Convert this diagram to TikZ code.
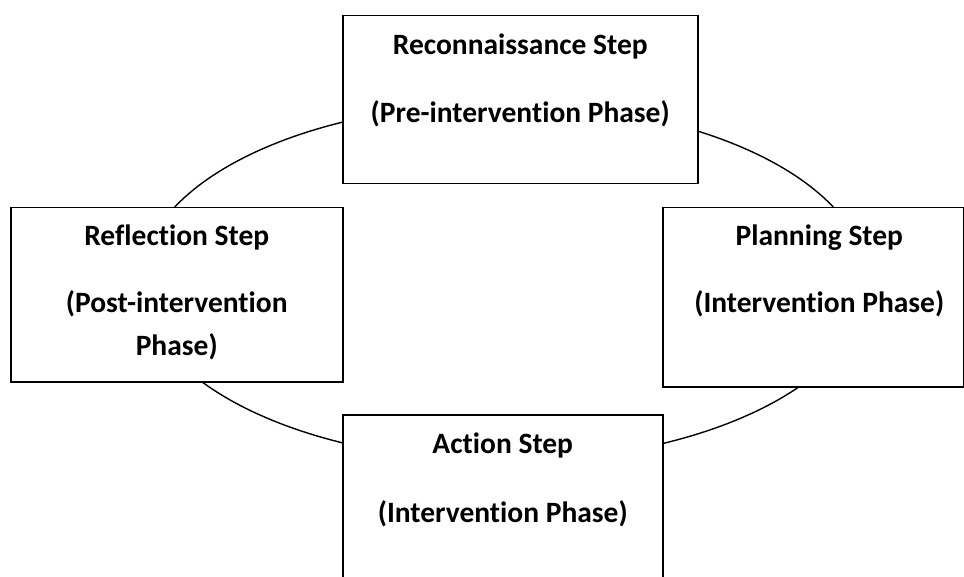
\documentclass[tikz,border=0pt]{standalone}
\usepackage{fontspec}
\setmainfont[Ligatures=NoCommon]{Carlito}
\usetikzlibrary{positioning}
\tikzset{
  stepbox/.style={draw, fill=white, line width=1.5pt, anchor=north west, inner sep=0pt},
  steptext/.style={align=center, inner sep=0pt, font=\bfseries\fontsize{29.5}{43}\selectfont}
}
\begin{document}
\begin{tikzpicture}[x=1pt, y=-1pt]
  \useasboundingbox (0,0) rectangle (964,577);
  \clip (0,0) rectangle (964,577);
  \coordinate (hub) at (504,282.5);
  \draw[line width=1.4pt] (hub) ellipse [x radius=363pt, y radius=179pt];
  \node[stepbox, minimum width=355pt, minimum height=168pt] (recon) at (342,15) {};
  \node[stepbox, minimum width=332pt, minimum height=174pt] (reflect) at (10,207) {};
  \node[stepbox, minimum width=301pt, minimum height=179pt] (plan) at (662,207) {};
  \node[stepbox, minimum width=320pt, minimum height=200pt] (act) at (342,414) {};
  \node[steptext, below=9pt of recon.north] (recontext)
    {\strut Reconnaissance Step\\[25pt](Pre-intervention Phase)};
  \node[steptext, below=8pt of reflect.north] (reflecttext)
    {\strut Reflection Step\\[24pt](Post-intervention\\Phase)};
  \node[steptext, below=8pt of plan.north, xshift=6pt] (plantext)
    {\strut Planning Step\\[24pt](Intervention Phase)};
  \node[steptext, below=9pt of act.north] (acttext)
    {\strut Action Step\\[26pt](Intervention Phase)};
\end{tikzpicture}
\end{document}
